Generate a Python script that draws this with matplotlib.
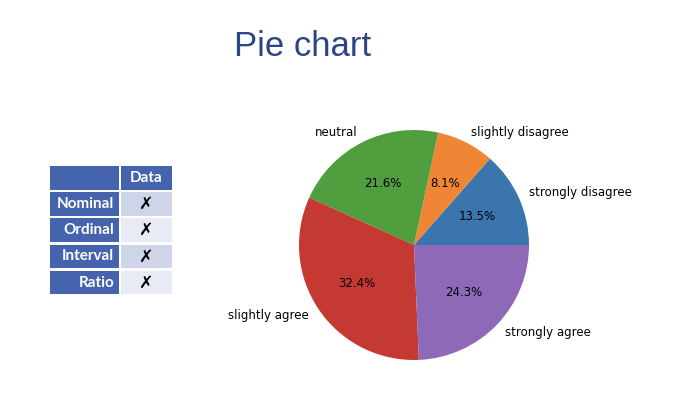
import matplotlib
matplotlib.use("Agg")
import matplotlib.pyplot as plt
from matplotlib.patches import Rectangle

labels = ["strongly disagree", "slightly disagree", "neutral", "slightly agree", "strongly agree"]
counts = [5, 3, 8, 12, 9]
colors = ["#3a75ae", "#ef8636", "#519e3e", "#c43a32", "#8d69b8"]

table_rows = ["Nominal", "Ordinal", "Interval", "Ratio"]
table_header = "Data"
table_marks = ["\u2717", "\u2717", "\u2717", "\u2717"]

W, H = 700, 393
fig = plt.figure(figsize=(W / 100, H / 100), dpi=100)

# background axes in pixel coordinates for title and table
bg = fig.add_axes([0, 0, 1, 1])
bg.set_xlim(0, W)
bg.set_ylim(H, 0)
bg.axis("off")

bg.text(303, 47, "Pie chart", ha="center", va="center", fontsize=25,
        color="#2c4585", family="Liberation Sans")

# table
x0, c1w, gap, c2w = 50, 69, 2, 51
y0, rh = 166, 23.5
hdr_col = "#4664ad"
cell_cols = ["#cfd5e8", "#e9ebf4"]
bg.add_patch(Rectangle((x0, y0), c1w, rh, color=hdr_col, lw=0))
bg.add_patch(Rectangle((x0 + c1w + gap, y0), c2w, rh, color=hdr_col, lw=0))
bg.text(x0 + c1w + gap + c2w / 2, y0 + rh / 2, table_header, ha="center", va="center",
        color="white", fontsize=11, fontweight="bold", family="Lato")
step = 26.2
for i, (r, m) in enumerate(zip(table_rows, table_marks)):
    yy = y0 + (i + 1) * step
    bg.add_patch(Rectangle((x0, yy), c1w, rh, color=hdr_col, lw=0))
    bg.add_patch(Rectangle((x0 + c1w + gap, yy), c2w, rh, color=cell_cols[i % 2], lw=0))
    bg.text(x0 + c1w - 5, yy + rh / 2, r, ha="right", va="center", color="white",
            fontsize=11, fontweight="bold", family="Lato")
    bg.text(x0 + c1w + gap + c2w / 2, yy + rh / 2, m, ha="center", va="center",
            color="black", fontsize=12.5, family="DejaVu Sans")

# pie
cx, cy, R = 414, 245, 115
half = R * 1.25
ax = fig.add_axes([(cx - half) / W, (H - cy - half) / H, 2 * half / W, 2 * half / H])
ax.pie(counts, labels=labels, colors=colors, autopct="%1.1f%%",
       textprops={"fontsize": 8.5, "family": "DejaVu Sans"})
ax.set_xlim(-1.25, 1.25)
ax.set_ylim(-1.25, 1.25)
ax.set_aspect("equal")

fig.savefig("out.png", dpi=100)
